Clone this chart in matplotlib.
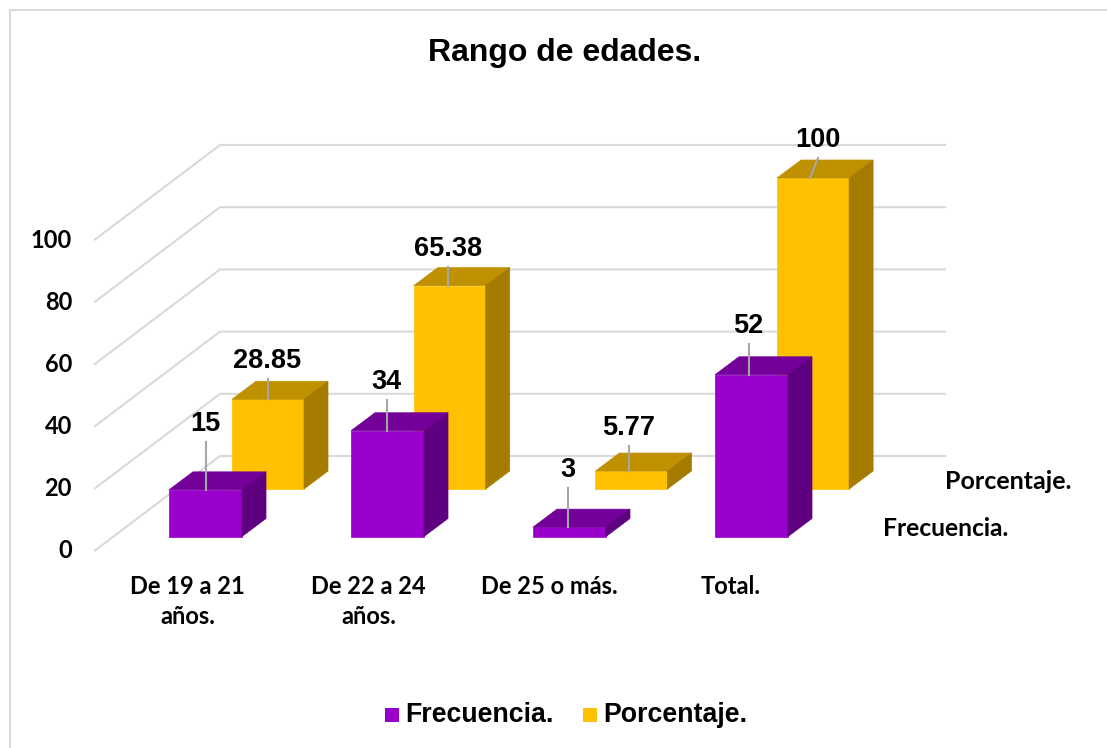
import matplotlib
matplotlib.use('Agg')
import matplotlib.pyplot as plt
from matplotlib.patches import Polygon, Rectangle

# datos
categorias = ['De 19 a 21\naños.', 'De 22 a 24\naños.', 'De 25 o más.', 'Total.']
frecuencia = [15, 34, 3, 52]
porcentaje = [28.85, 65.38, 5.77, 100]
etiq_frec = ['15', '34', '3', '52']
etiq_porc = ['28.85', '65.38', '5.77', '100']
ticks_y = [0, 20, 40, 60, 80, 100]

MORADO = ('#9900cc', '#720099', '#5f0080')
AMARILLO = ('#ffc000', '#bf9000', '#a67c00')
GRIS = '#d9d9d9'

# escala en pixeles (vista oblicua)
ESC = 3.11
DX, DY = 24, 18

# largo de las guias de cada etiqueta
guia_frec = [48, 31, 39, 31]
guia_porc = [20, 19, 25, 20]


def val_y(base, v):
    return base - v * ESC


fig = plt.figure(figsize=(11.07, 7.48), dpi=100)
ax = fig.add_axes([0, 0, 1, 1])
ax.set_xlim(0, 1107)
ax.set_ylim(748, 0)
ax.axis('off')

# marco (solo se ve arriba y a la izquierda)
ax.plot([9.5, 9.5, 1107], [748, 10, 10], color=GRIS, lw=1.5)

# rejilla: pared del fondo y piso lateral
for t in ticks_y:
    yb = val_y(456, t)
    ax.plot([95, 220, 945], [yb + 94.5, yb, yb], color=GRIS, lw=1.5, zorder=1)
    ax.text(72, yb + 93, str(t), ha='right', va='center_baseline', fontsize=17,
            fontweight='bold', family='Lato', color='black')


def barra(x0, ancho, base, v, cols, z):
    top = val_y(base, v)
    x1 = x0 + ancho
    ax.add_patch(Polygon([(x0, base), (x1, base), (x1, top), (x0, top)],
                         fc=cols[0], ec=cols[0], lw=0.5, zorder=z))
    ax.add_patch(Polygon([(x0, top), (x1, top), (x1 + DX, top - DY), (x0 + DX, top - DY)],
                         fc=cols[1], ec=cols[1], lw=0.5, zorder=z))
    ax.add_patch(Polygon([(x1, base), (x1 + DX, base - DY), (x1 + DX, top - DY), (x1, top)],
                         fc=cols[2], ec=cols[2], lw=0.5, zorder=z))
    return top


# primero la fila de atras
for i in range(4):
    x0 = 232 + i * 181.7
    top = barra(x0, 72, 489, porcentaje[i], AMARILLO, 2)
    xc = 267.5 + i * 180.7
    if i == 3:
        # la etiqueta del total va corrida, su guia queda inclinada
        ax.plot([810, 818], [top, top - guia_porc[i]], color='#a6a6a6', lw=1.5, zorder=3)
        ax.text(818, top - guia_porc[i] - 18, etiq_porc[i], ha='center', va='center', fontsize=19.5,
                fontweight='bold', family='Liberation Sans', zorder=5)
    else:
        ax.plot([xc, xc], [top, top - guia_porc[i]], color='#a6a6a6', lw=1.5, zorder=3)
        ax.text(xc, top - guia_porc[i] - 18, etiq_porc[i], ha='center', va='center', fontsize=19.5,
                fontweight='bold', family='Liberation Sans', zorder=5)

for i in range(4):
    x0 = 169 + i * 182
    top = barra(x0, 73, 536.5, frecuencia[i], MORADO, 4)
    xc = 205.5 + i * 181
    ax.plot([xc, xc], [top, top - guia_frec[i]], color='#a6a6a6', lw=1.5, zorder=5)
    ax.text(xc, top - guia_frec[i] - 18, etiq_frec[i], ha='center', va='center', fontsize=19.5,
            fontweight='bold', family='Liberation Sans', zorder=5)

# categorias
for i, c in enumerate(categorias):
    ax.text(187.5 + i * 181, 575, c, ha='center', va='top', fontsize=17, fontweight='bold',
            family='Lato', linespacing=1.36)

# nombres de las series
ax.text(945, 481, 'Porcentaje.', ha='left', va='center', fontsize=18, fontweight='bold', family='Lato')
ax.text(883, 528, 'Frecuencia.', ha='left', va='center', fontsize=17.7, fontweight='bold', family='Lato')

ax.text(565, 53, 'Rango de edades.', ha='center', va='center', fontsize=23,
        fontweight='bold', family='Liberation Sans')

# leyenda
ax.add_patch(Rectangle((385, 708), 14, 14, fc=MORADO[0], ec='none'))
ax.text(405, 715, 'Frecuencia.', ha='left', va='center', fontsize=19.3, fontweight='bold', family='Liberation Sans')
ax.add_patch(Rectangle((583, 708), 14, 14, fc=AMARILLO[0], ec='none'))
ax.text(603, 715, 'Porcentaje.', ha='left', va='center', fontsize=19.3, fontweight='bold', family='Liberation Sans')

fig.savefig('out.png', dpi=100)
